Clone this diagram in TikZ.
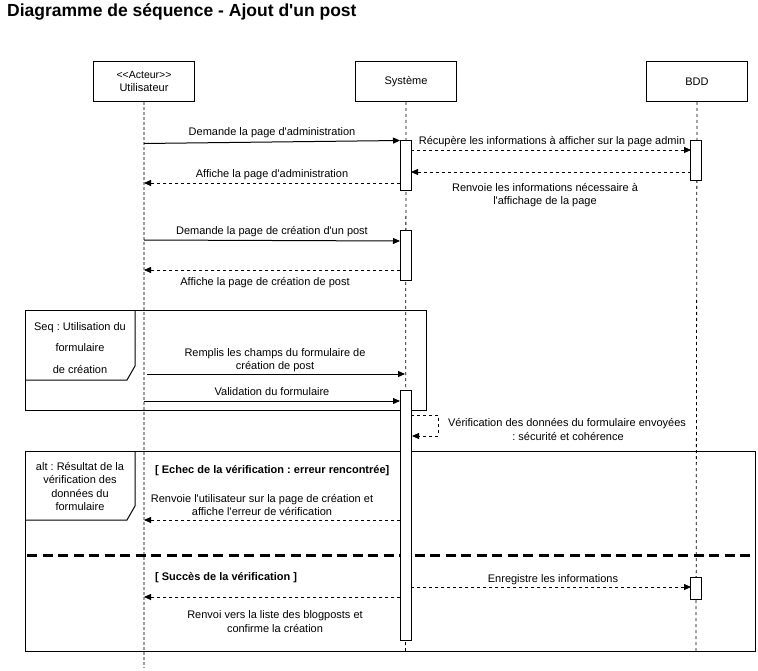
\documentclass[tikz,border=0pt]{standalone}
\usepackage{fontspec}
\setmainfont{Liberation Sans}[Ligatures=TeXOff]
\usetikzlibrary{arrows.meta}
\frenchspacing
\begin{document}
\begin{tikzpicture}[x=1pt,y=-1pt,
  font=\fontsize{11}{13}\selectfont,
  every node/.style={inner sep=0pt},
  head/.style={draw, line width=1pt, minimum width=101pt, minimum height=40pt, align=center, anchor=north west, fill=white},
  userline/.style={draw=gray!75, line width=1.4pt, dash pattern=on 3pt off 2pt},
  sysline/.style={draw=black, line width=0.8pt, dash pattern=on 3pt off 3pt},
  act/.style={draw, line width=1pt, fill=white, minimum width=11pt, anchor=north},
  sync/.style={line width=1pt, -{Triangle[length=7pt,width=6pt]}},
  reply/.style={line width=0.8pt, dash pattern=on 3pt off 3pt, -{Triangle[length=7pt,width=6pt]}},
  lbl/.style={anchor=base, align=center},
  frame/.style={draw, line width=1pt},
  guard/.style={anchor=base west, font=\fontsize{11}{13}\selectfont\bfseries},
]
\useasboundingbox (0,0) rectangle (758,671);

% title
\node[anchor=base west, font=\fontsize{17.5}{20}\selectfont\bfseries] (title) at (7,17) {Diagramme de séquence - Ajout d'un post};

% heads
\node[head] (U) at (93,61) {\fontsize{10.5}{13}\selectfont<<Acteur>>\\Utilisateur};
\node[head] (S) at (355,61) {Système};
\node[head] (B) at (646,61) {BDD};

% lifelines
\coordinate (Uend) at (144,668);
\coordinate (Send) at (405.5,651);
\coordinate (Bend) at (696,651);
\draw[userline] (U.south) -- (Uend);
\draw[sysline] (S.south) -- (Send);
\draw[sysline] (B.south) -- (Bend);

% frames
\draw[frame] (25,310) rectangle (426,410);
\draw[frame] (135,310) -- (135,366) -- (127,380) -- (25,380);
\node[lbl] (seqA) at (80,330) {Seq : Utilisation du};
\node[lbl] (seqB) at (80,351) {formulaire};
\node[lbl] (seqC) at (80,373) {de création};

\draw[frame] (25,451) rectangle (755,651);
\draw[frame] (135,451) -- (135,506) -- (127,520) -- (25,520);
\node[lbl] (altA) at (80,470) {alt : Résultat de la};
\node[lbl] (altB) at (80,483) {vérification des};
\node[lbl] (altC) at (80,497) {données du};
\node[lbl] (altD) at (80,510) {formulaire};
\draw[line width=3pt, dash pattern=on 10pt off 5.5pt] (27,555) -- (755,555);

% activations
\node[act, minimum height=50pt] (sa1) at (405.5,140) {};
\node[act, minimum height=40pt] (ba1) at (696,140) {};
\node[act, minimum height=50pt] (sa2) at (405.5,230) {};
\node[act, minimum height=250pt] (sa3) at (405.5,390) {};
\node[act, minimum height=22pt] (ba2) at (696,577) {};

% message end points
\coordinate (m1s) at (144,143.5);  \coordinate (m1e) at (400,140.5);
\coordinate (m2s) at (411,150);    \coordinate (m2e) at (691,150);
\coordinate (m3s) at (691,172);    \coordinate (m3e) at (411,172);
\coordinate (m4s) at (400,183);    \coordinate (m4e) at (144,183);
\coordinate (m5s) at (144,240);    \coordinate (m5e) at (400,241);
\coordinate (m6s) at (400,270);    \coordinate (m6e) at (144,270);
\coordinate (m7s) at (147,374);    \coordinate (m7e) at (405,374);
\coordinate (m8s) at (144,401);    \coordinate (m8e) at (400,401);
\coordinate (m9s) at (411,415);    \coordinate (m9a) at (438,415);
\coordinate (m9b) at (438,436);    \coordinate (m9e) at (412,436);
\coordinate (m10s) at (400,520);   \coordinate (m10e) at (144,520);
\coordinate (m11s) at (411,587);   \coordinate (m11e) at (691,587);
\coordinate (m12s) at (400,597);   \coordinate (m12e) at (144,597);

% messages
\draw[sync] (m1s) -- (m1e);
\node[lbl] (l1) at (272,136) {Demande la page d'administration};
\draw[reply] (m2s) -- (m2e);
\node[lbl] (l2) at (552,145) {Récupère les informations à afficher sur la page admin};
\draw[reply] (m3s) -- (m3e);
\node[lbl] (l3a) at (545,192) {Renvoie les informations nécessaire à};
\node[lbl] (l3b) at (545,205) {l'affichage de la page};
\draw[reply] (m4s) -- (m4e);
\node[lbl] (l4) at (272,178) {Affiche la page d'administration};
\draw[sync] (m5s) -- (m5e);
\node[lbl] (l5) at (272,235) {Demande la page de création d'un post};
\draw[reply] (m6s) -- (m6e);
\node[lbl] (l6) at (265,285) {Affiche la page de création de post};
\draw[sync] (m7s) -- (m7e);
\node[lbl] (l7a) at (275,356) {Remplis les champs du formulaire de};
\node[lbl] (l7b) at (275,369) {création de post};
\draw[sync] (m8s) -- (m8e);
\node[lbl] (l8) at (272,395) {Validation du formulaire};
\draw[reply] (m9s) -- (m9a) -- (m9b) -- (m9e);
\node[lbl] (l9a) at (567,426) {Vérification des données du formulaire envoyées};
\node[lbl] (l9b) at (568,440) {: sécurité et cohérence};
\node[guard] (g1) at (155,473) {[ Echec de la vérification : erreur rencontrée]};
\draw[reply] (m10s) -- (m10e);
\node[lbl] (l10a) at (262,502) {Renvoie l'utilisateur sur la page de création et};
\node[lbl] (l10b) at (262,515) {affiche l'erreur de vérification};
\node[guard] (g2) at (155,580) {[ Succès de la vérification ]};
\draw[reply] (m11s) -- (m11e);
\node[lbl] (l11) at (553,582) {Enregistre les informations};
\draw[reply] (m12s) -- (m12e);
\node[lbl] (l12a) at (275,618) {Renvoi vers la liste des blogposts et};
\node[lbl] (l12b) at (275,632) {confirme la création};
\end{tikzpicture}
\end{document}
